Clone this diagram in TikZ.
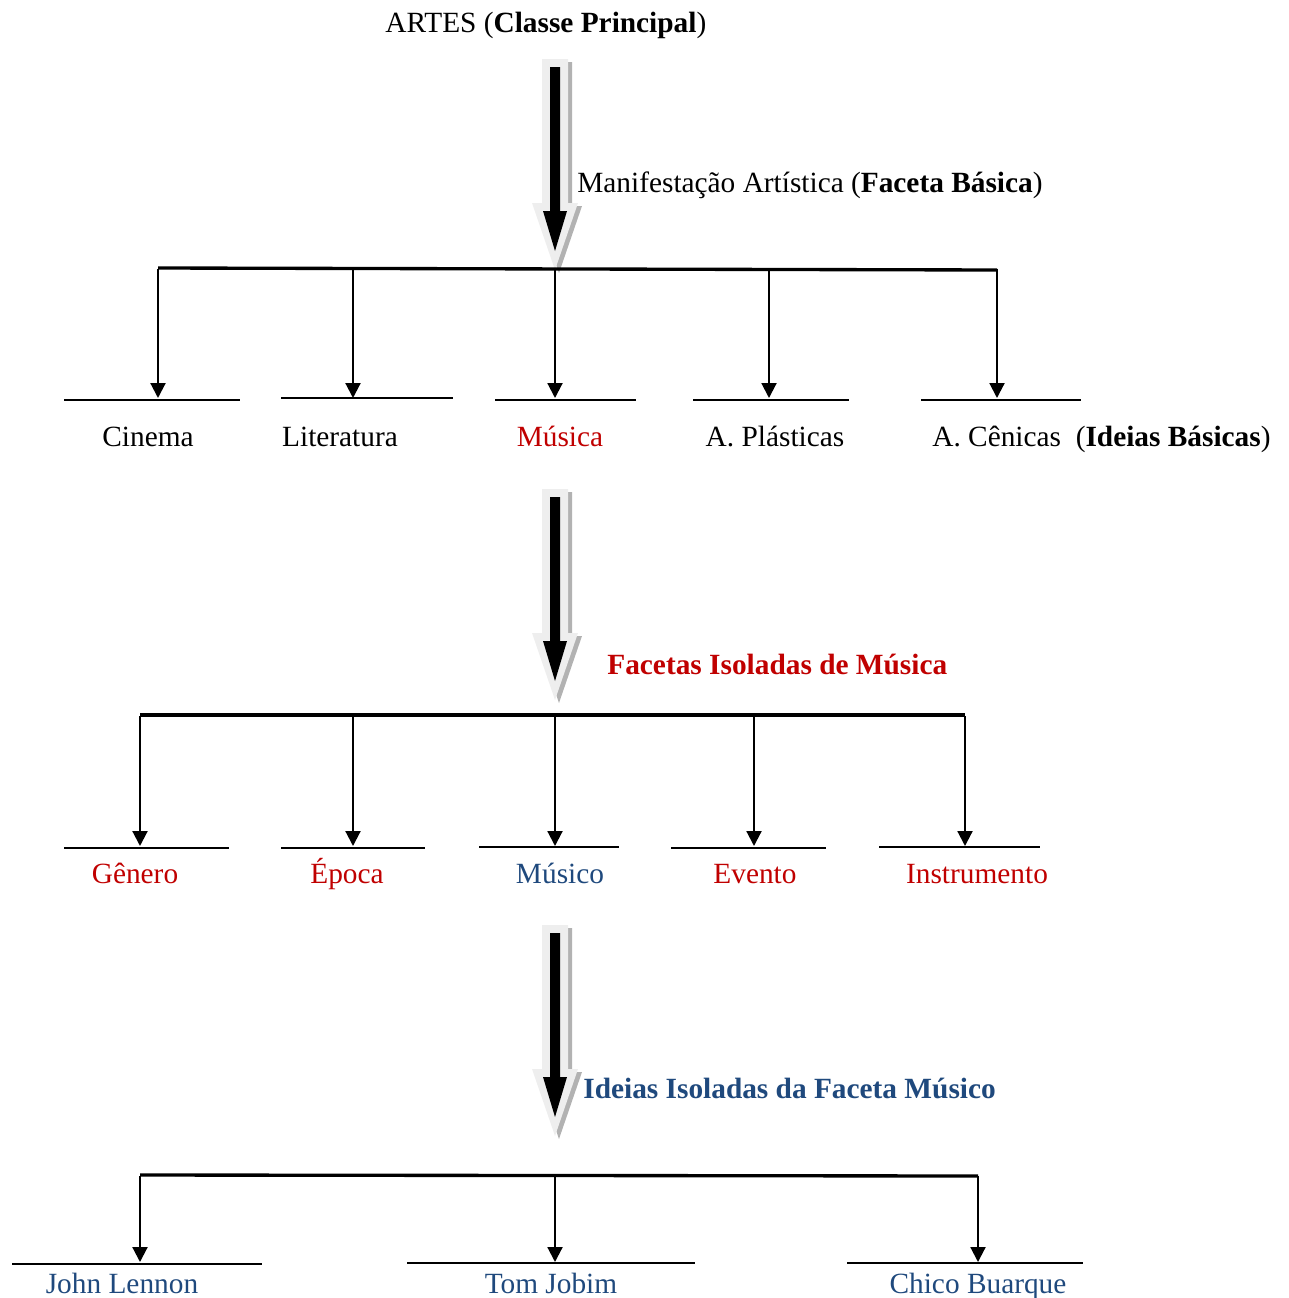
\documentclass[tikz,border=0pt]{standalone}
\usepackage{fontspec}
\setmainfont{Liberation Serif}
\usetikzlibrary{arrows.meta}

\definecolor{facred}{HTML}{C00000}
\definecolor{facblue}{HTML}{1F497D}
\definecolor{shadegray}{HTML}{B2B2B2}
\definecolor{palegray}{HTML}{EEEEEE}

\tikzset{
  lbl/.style={inner sep=0pt, anchor=base, font=\fontsize{16.7}{19}\selectfont},
  barline/.style={line width=1.9pt},
  drop/.style={line width=1.2pt, -{Triangle[length=8.5pt,width=8.5pt]}},
  uline/.style={line width=1.3pt}
}

% big block arrow: #1 = centre x, #2 = top y
\newcommand{\blockarrow}[2]{%
  \fill[shadegray, shift={(4,3)}] (#1-13,#2) -- (#1+13,#2) -- (#1+13,#2+144) -- (#1+23,#2+144)
       -- (#1,#2+211) -- (#1-23,#2+144) -- (#1-13,#2+144) -- cycle;
  \fill[palegray] (#1-13,#2) -- (#1+13,#2) -- (#1+13,#2+144) -- (#1+23,#2+144)
       -- (#1,#2+211) -- (#1-23,#2+144) -- (#1-13,#2+144) -- cycle;
  \fill[black] (#1-5,#2+8) -- (#1+5,#2+8) -- (#1+5,#2+152) -- (#1+12,#2+152)
       -- (#1,#2+192) -- (#1-12,#2+152) -- (#1-5,#2+152) -- cycle;
}

\begin{document}
\begin{tikzpicture}[x=0.02cm, y=-0.02cm]
  \useasboundingbox (0,0) rectangle (1288,1298);

  % classe principal
  \node[lbl, anchor=base west] (artes) at (385,32) {ARTES (\textbf{Classe Principal})};
  \blockarrow{555}{59}
  \node[lbl, anchor=base west] (manif) at (577,192) {Manifestação Artística (\textbf{Faceta Básica})};

  % ideias basicas
  \coordinate (bar1w) at (158,268);
  \coordinate (bar1e) at (997,270);
  \draw[barline] (bar1w) -- (bar1e);
  \foreach \x/\n in {158/cin,353/lit,555/mus,769/pla,997/cen}{
    \coordinate (\n top) at (\x,269);
    \coordinate (\n end) at (\x,398);
    \draw[drop] (\n top) -- (\n end);
  }
  \draw[uline] (64,400) -- (240,400);
  \draw[uline] (281,398) -- (453,398);
  \draw[uline] (495,400) -- (636,400);
  \draw[uline] (693,400) -- (849,400);
  \draw[uline] (921,400) -- (1081,400);
  \node[lbl] (cinema) at (148,446) {Cinema};
  \node[lbl] (literatura) at (340,446) {Literatura};
  \node[lbl, text=facred] (musica) at (560,446) {Música};
  \node[lbl] (plasticas) at (775,446) {A. Plásticas};
  \node[lbl, anchor=base west] (cenicas) at (932,446) {A. Cênicas\ \ (\textbf{Ideias Básicas})};

  % facetas isoladas
  \blockarrow{555}{489}
  \node[lbl, anchor=base west, text=facred] (facetas) at (607,674) {\textbf{Facetas Isoladas de Música}};
  \coordinate (bar2w) at (140,715);
  \coordinate (bar2e) at (965,715);
  \draw[barline] (bar2w) -- (bar2e);
  \foreach \x/\n in {140/gen,353/epo,555/mco,754/eve,965/ins}{
    \coordinate (\n top) at (\x,716);
    \coordinate (\n end) at (\x,846);
    \draw[drop] (\n top) -- (\n end);
  }
  \draw[uline] (64,848) -- (229,848);
  \draw[uline] (281,848) -- (425,848);
  \draw[uline] (479,847) -- (619,847);
  \draw[uline] (671,848) -- (826,848);
  \draw[uline] (879,847) -- (1040,847);
  \node[lbl, text=facred] (genero) at (135,883) {Gênero};
  \node[lbl, text=facred] (epoca) at (347,883) {Época};
  \node[lbl, text=facblue] (musico) at (560,883) {Músico};
  \node[lbl, text=facred] (evento) at (755,883) {Evento};
  \node[lbl, text=facred] (instrumento) at (977,883) {Instrumento};

  % ideias isoladas
  \blockarrow{555}{925}
  \node[lbl, anchor=base west, text=facblue] (ideias) at (583,1098) {\textbf{Ideias Isoladas da Faceta Músico}};
  \coordinate (bar3w) at (140,1175);
  \coordinate (bar3e) at (978,1176);
  \draw[barline] (bar3w) -- (bar3e);
  \foreach \x/\n in {140/jl,555/tj,978/cb}{
    \coordinate (\n top) at (\x,1176);
    \coordinate (\n end) at (\x,1262);
    \draw[drop] (\n top) -- (\n end);
  }
  \draw[uline] (12,1264) -- (262,1264);
  \draw[uline] (407,1263) -- (695,1263);
  \draw[uline] (847,1263) -- (1083,1263);
  \node[lbl, text=facblue] (lennon) at (122,1293) {John Lennon};
  \node[lbl, text=facblue] (jobim) at (551,1293) {Tom Jobim};
  \node[lbl, text=facblue] (chico) at (978,1293) {Chico Buarque};
\end{tikzpicture}
\end{document}
